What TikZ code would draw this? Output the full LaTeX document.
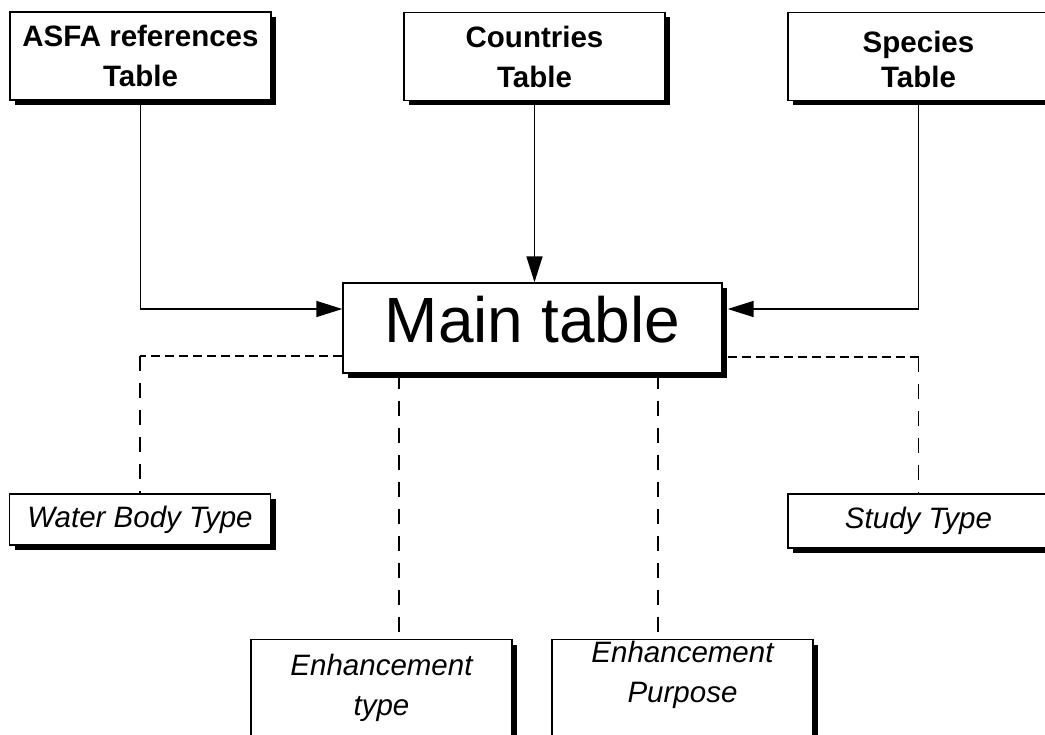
\documentclass[tikz,border=0pt]{standalone}
\usepackage{fontspec}
\setmainfont{Liberation Sans}
\usetikzlibrary{arrows.meta,shadows}
\tikzset{
  tbl/.style={draw, line width=1.4pt, fill=white, inner sep=0pt, minimum width=261pt, align=center,
    drop shadow={shadow xshift=5pt, shadow yshift=-5pt, fill=black, opacity=1}},
  reftable/.style={tbl, minimum height=88pt, font=\fontsize{29.5}{40}\selectfont\bfseries},
  subtable/.style={tbl, font=\fontsize{29.5}{40}\selectfont\itshape},
  link/.style={line width=1.6pt, -{Triangle[length=26pt,width=16pt]}},
  hdash/.style={line width=1.6pt, dash pattern=on 9pt off 5pt},
  vdash/.style={line width=1.6pt, dash pattern=on 15pt off 12pt}
}
\begin{document}
\begin{tikzpicture}[x=1pt,y=-1pt]
  \useasboundingbox (0,0) rectangle (1045,735);
  \clip (0,0) rectangle (1045,735);
  \node (0) [tbl, minimum width=379pt, minimum height=90pt, text depth=17pt, font=\fontsize{64}{70}\selectfont] at (532.5,328) {Main table};
  \node (1) [reftable] at (140.5,56) {ASFA references\\Table};
  \node (2) [reftable] at (534.5,56.5) {Countries\\Table};
  \node (3) [reftable, font=\fontsize{29.5}{35}\selectfont\bfseries] at (918.5,56.5) {\rule{0pt}{28pt}Species\\Table};
  \node (4) [subtable, minimum height=51pt] at (140,519.5) {Water Body Type};
  \node (5) [subtable, minimum height=54pt] at (918.5,521) {Study Type};
  \node (6) [subtable, anchor=north, inner ysep=14.5pt] at (381.5,639) {Enhancement\\type\rule[-60pt]{0pt}{60pt}};
  \node (7) [subtable, anchor=north, inner ysep=1.5pt] at (682.5,639) {Enhancement\\Purpose\rule[-60pt]{0pt}{60pt}};
  \draw[link] (1.south) |- ([yshift=19pt]0.west);
  \draw[link] (2.south) -- (2.south |- 0.north);
  \draw[link] (3.south) |- ([xshift=5pt,yshift=19pt]0.east);
  \coordinate (w) at ([yshift=-28pt]0.west);
  \coordinate (e) at ([xshift=5pt,yshift=-29pt]0.east);
  \draw[hdash] (w) -- (w -| 4.north);
  \draw[vdash] (w -| 4.north) -- (4.north);
  \draw[hdash] (e) -- (e -| 5.north);
  \draw[vdash] (e -| 5.north) -- (5.north);
  \coordinate (a) at ([xshift=17.5pt]6.north);
  \coordinate (b) at ([xshift=-24.5pt]7.north);
  \draw[vdash] (a |- 0.south) -- (a);
  \draw[vdash] (b |- 0.south) -- (b);
\end{tikzpicture}
\end{document}
